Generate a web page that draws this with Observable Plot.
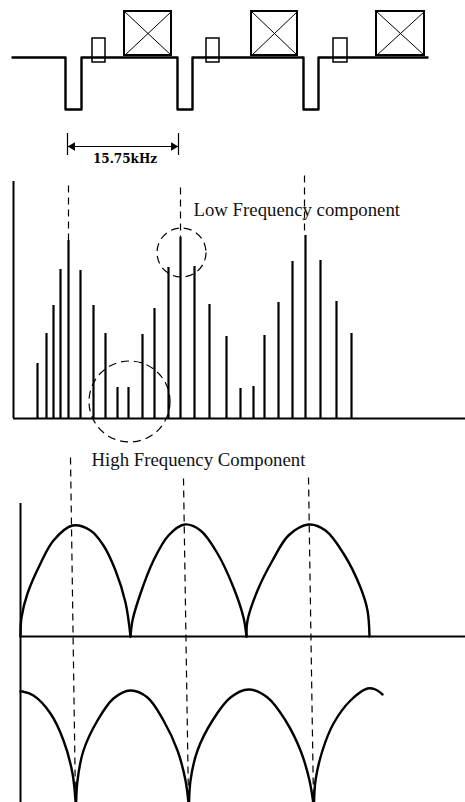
<!DOCTYPE html>
<html>
<head>
<meta charset="utf-8">
<script src="https://cdn.jsdelivr.net/npm/d3@7"></script>
<script src="https://cdn.jsdelivr.net/npm/@observablehq/plot@0.6"></script>
<style>
  html, body { margin: 0; padding: 0; background: #fff; }
  #chart svg { display: block; }
</style>
</head>
<body>
<div id="chart"></div>
<script>
// ---------- Data (diagram units: x across, y down) ----------
// Top: TV line waveform (sync pulses), burst boxes and video blocks
const waveX = [12, 65, 65, 81, 81, 177, 177, 192, 192, 303, 303, 318, 318, 427];
const waveY = [57, 57, 109, 109, 57, 57, 109, 109, 57, 57, 109, 109, 57, 57];
const burstX1 = [92, 206, 333];
const burstX2 = [105, 219, 347];
const burstTop = 38, burstBottom = 62;
const videoX1 = [124, 251, 376];
const videoX2 = [171, 297, 424];
const videoTop = 11, videoBottom = 55;

// Line-period dimension
const dimX = [67, 178];
const dimLabel = "15.75kHz";

// Middle: spectrum lines
const specBase = 418;
const specFreq = [37, 46, 53, 60, 68, 80, 93, 105, 117, 128, 142, 154, 168, 180, 194, 209, 226, 240, 253, 264, 278, 292, 305, 320, 336, 351];
const specAmp  = [55, 85, 113, 149, 178, 148, 113, 85, 31, 31, 84, 110, 151, 181, 152, 114, 82, 30, 32, 83, 116, 157, 183, 158, 117, 85];

// Dashed guide lines through the spectrum peaks
const specGuideX = [68, 180, 304];
const specGuideTop = [185, 187, 175];
const specGuideBottom = [240, 237, 235];

// Dashed circles
const circleX = [181, 129];
const circleY = [252, 401];
const circleR = [24.5, 40.5];

// Labels
const labelText = ["Low Frequency component", "High Frequency Component"];
const labelX = [193, 91];
const labelY = [215, 465];

// Bottom panels: envelopes (upper: rectified arches, lower: inverted arches)
const upperArch = [1, 1, 1, 1, 1, 1, 1, 1, 1, 1, 1,
                   2, 2, 2, 2, 2, 2, 2, 2, 2, 2, 2,
                   3, 3, 3, 3, 3, 3, 3, 3, 3, 3, 3];
const upperX = [20, 21, 27, 40, 53, 72, 90, 103, 115, 125, 130,
                130, 132, 140, 153, 168, 184, 200, 217, 233, 243, 246,
                246, 247, 257, 272, 288, 308, 325, 343, 360, 367, 369];
const upperY = [636, 617, 593, 563, 540, 525, 530, 545, 570, 602, 636,
                636, 620, 593, 560, 535, 524, 530, 553, 587, 617, 636,
                636, 620, 590, 560, 535, 524, 530, 553, 587, 610, 636];

const lowerArch = [1, 1, 1, 1, 1, 1, 1,
                   2, 2, 2, 2, 2, 2, 2, 2, 2, 2, 2,
                   3, 3, 3, 3, 3, 3, 3, 3, 3, 3, 3,
                   4, 4, 4, 4, 4, 4, 4, 4];
const lowerX = [20, 22, 33, 50, 63, 72, 75.5,
                75.5, 77, 83, 97, 113, 130, 147, 163, 177, 185, 188.5,
                188.5, 190, 197, 212, 230, 248, 267, 285, 300, 309, 313.5,
                313.5, 315, 322, 333, 350, 367, 375, 382];
const lowerY = [691, 691, 695, 713, 740, 773, 808,
                808, 780, 750, 720, 698, 690, 697, 720, 750, 780, 808,
                808, 780, 750, 720, 697, 689, 697, 720, 750, 780, 808,
                808, 780, 750, 723, 700, 688, 689, 694];

const lowerGuideX1 = [70, 183, 308];
const lowerGuideX2 = [75, 188, 313];
const lowerGuideTop = [457, 478, 477];
const lowerGuideBottom = 802;

const panelBase = 636;

// ---------- Derived tables ----------
const wave = waveX.map((x, i) => ({x, y: waveY[i]}));
const bursts = burstX1.map((x1, i) => ({x1, x2: burstX2[i], y1: burstTop, y2: burstBottom}));
const videos = videoX1.map((x1, i) => ({x1, x2: videoX2[i], y1: videoTop, y2: videoBottom}));
const diag = videos.flatMap(d => [
  {x1: d.x1, y1: d.y1, x2: d.x2, y2: d.y2},
  {x1: d.x1, y1: d.y2, x2: d.x2, y2: d.y1}
]);
const spec = specFreq.map((x, i) => ({x, top: specBase - specAmp[i]}));
const specGuides = specGuideX.map((x, i) => ({x, y1: specGuideTop[i], y2: specGuideBottom[i]}));
const circles = circleX.map((x, i) => ({x, y: circleY[i], r: circleR[i]}));
const labels = labelText.map((t, i) => ({t, x: labelX[i], y: labelY[i]}));
const upper = upperX.map((x, i) => ({x, y: upperY[i], k: upperArch[i]}));
const lower = lowerX.map((x, i) => ({x, y: lowerY[i], k: lowerArch[i]}));
const lowerGuides = lowerGuideX1.map((x1, i) => ({x1, x2: lowerGuideX2[i], y1: lowerGuideTop[i], y2: lowerGuideBottom}));

const serif = "'Liberation Serif', 'DejaVu Serif', serif";
const dash = "7,5";

const chart = Plot.plot({
  width: 465,
  height: 802,
  margin: 0,
  x: {domain: [0, 465], range: [0, 465], axis: null},
  y: {domain: [0, 802], range: [0, 802], axis: null},
  r: {type: "identity"},
  style: {background: "#fff"},
  marks: [
    // top waveform
    Plot.line(wave, {x: "x", y: "y", stroke: "#000", strokeWidth: 2.4, curve: "linear"}),
    Plot.rect(bursts, {x1: "x1", x2: "x2", y1: "y1", y2: "y2", fill: "none", stroke: "#000", strokeWidth: 1.5}),
    Plot.rect(videos, {x1: "x1", x2: "x2", y1: "y1", y2: "y2", fill: "none", stroke: "#000", strokeWidth: 2}),
    Plot.link(diag, {x1: "x1", y1: "y1", x2: "x2", y2: "y2", stroke: "#000", strokeWidth: 1}),

    // dimension 15.75kHz
    Plot.ruleX(dimX, {x: d => d, y1: 133, y2: 155, stroke: "#000", strokeWidth: 1.2}),
    Plot.link([{x1: dimX[0], x2: dimX[1]}], {x1: "x1", x2: "x2", y1: 146, y2: 146, stroke: "#000", strokeWidth: 1.2}),
    Plot.dot([{x: dimX[0] + 5, rot: -90}, {x: dimX[1] - 5, rot: 90}], {x: "x", y: 146, symbol: "triangle2", r: 4, rotate: "rot", fill: "#000", stroke: "none"}),
    Plot.text([dimLabel], {x: (dimX[0] + dimX[1]) / 2 + 2, y: 162, text: d => d, fontFamily: "'DejaVu Serif', serif", fontWeight: "bold", fontSize: 12, fill: "#000", lineAnchor: "bottom"}),

    // spectrum
    Plot.ruleX([0], {x: 13, y1: 181, y2: specBase, stroke: "#000", strokeWidth: 2}),
    Plot.ruleY([0], {y: specBase, x1: 13, x2: 465, stroke: "#000", strokeWidth: 2}),
    Plot.ruleX(spec, {x: "x", y1: specBase, y2: "top", stroke: "#000", strokeWidth: 2.2}),
    Plot.link(specGuides, {x1: "x", x2: "x", y1: "y1", y2: "y2", stroke: "#000", strokeWidth: 1.2, strokeDasharray: dash}),
    Plot.dot(circles, {x: "x", y: "y", r: "r", fill: "none", stroke: "#000", strokeWidth: 1.2, strokeDasharray: "8,5"}),

    // labels
    Plot.text(labels, {x: "x", y: "y", text: "t", textAnchor: "start", lineAnchor: "bottom", fontFamily: serif, fontSize: 18.8, fill: "#111"}),

    // bottom panels
    Plot.ruleX([0], {x: 20, y1: 503, y2: 802, stroke: "#000", strokeWidth: 2}),
    Plot.ruleY([0], {y: panelBase, x1: 20, x2: 465, stroke: "#000", strokeWidth: 2}),
    Plot.link(lowerGuides, {x1: "x1", x2: "x2", y1: "y1", y2: "y2", stroke: "#000", strokeWidth: 1.2, strokeDasharray: dash}),
    Plot.line(upper, {x: "x", y: "y", z: "k", stroke: "#000", strokeWidth: 2.4, curve: "catmull-rom"}),
    Plot.line(lower, {x: "x", y: "y", z: "k", stroke: "#000", strokeWidth: 2.4, curve: "catmull-rom"})
  ]
});
document.getElementById("chart").appendChild(chart);
</script>
</body>
</html>
